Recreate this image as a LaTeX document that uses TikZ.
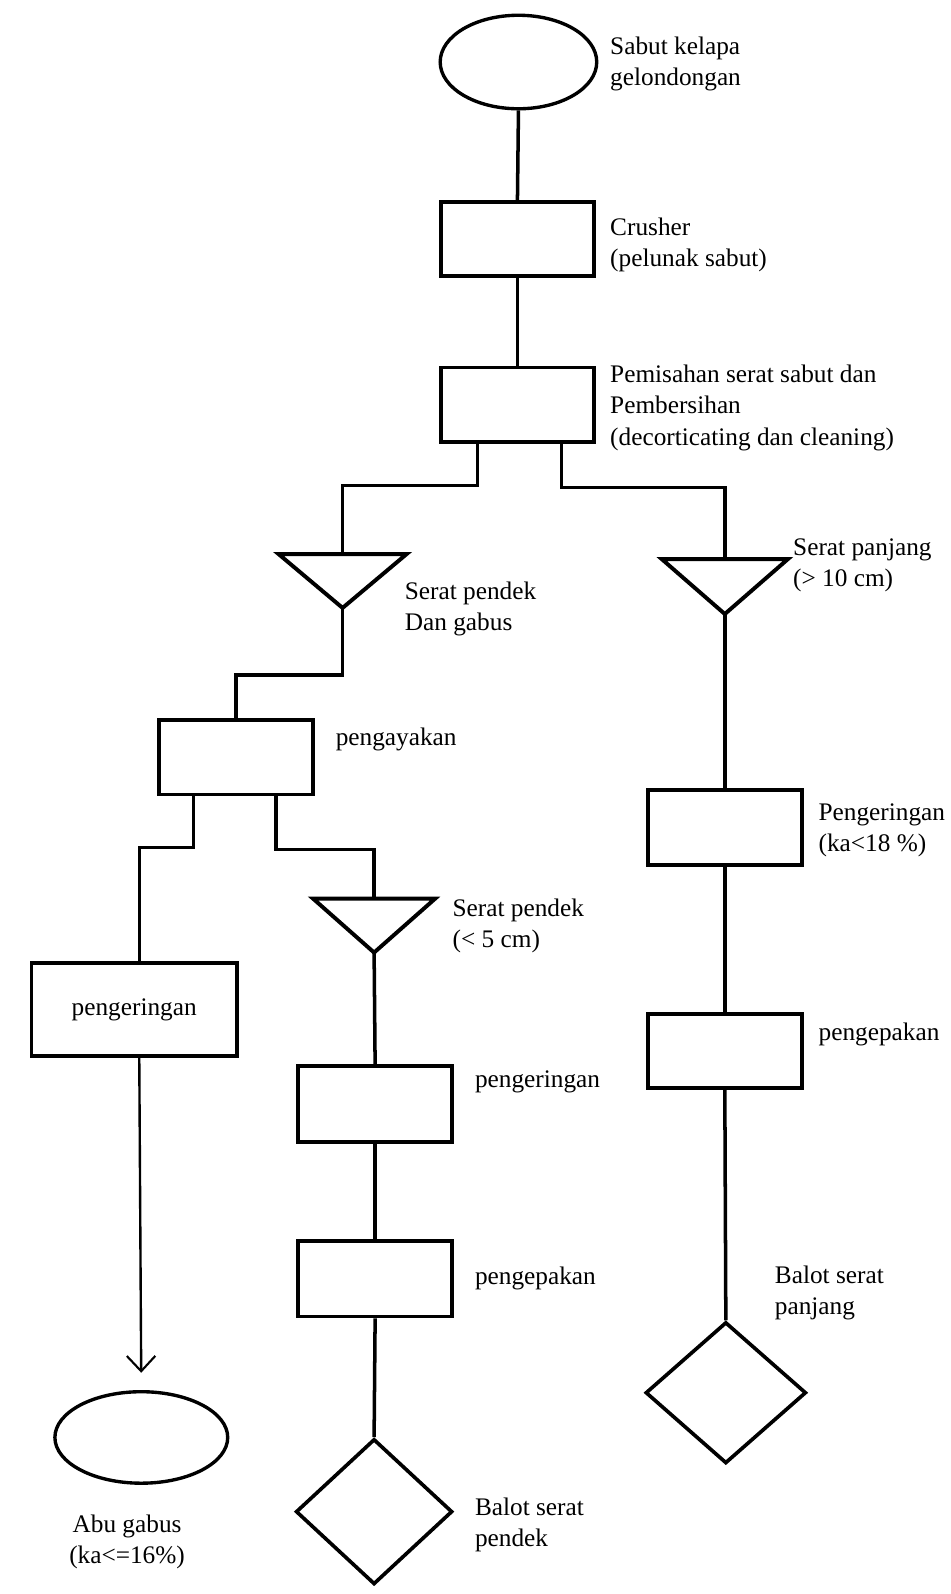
\documentclass[tikz,border=0pt]{standalone}
\usepackage{fontspec}
\setmainfont{Liberation Serif}
\usetikzlibrary{shapes.geometric,arrows.meta}
\def\U{0.2543mm}
\begin{document}
\begin{tikzpicture}[x=\U,y=-\U,
  conn/.style={line width=2.5pt, line join=miter},
  thinconn/.style={line width=1.7pt},
  box/.style={draw, line width=2.8pt, rectangle, minimum width=151*\U, minimum height=73*\U, inner sep=0pt},
  ell/.style={draw, line width=2.4pt, ellipse, inner sep=0pt},
  dia/.style={draw, line width=2.6pt, diamond, inner sep=0pt},
  tri/.style={draw, line width=2.8pt, line join=miter},
  lbl/.style={anchor=west, align=left, inner sep=0pt, font=\fontsize{18}{22.4}\selectfont},
  inlbl/.style={font=\fontsize{18}{22.4}\selectfont}
]
\useasboundingbox[fill=white] (0,0) rectangle (935,1568);

% shapes
\node[ell, minimum width=154*\U, minimum height=92*\U] (src) at (510,61) {};
\node[box] (crush) at (509,235) {};
\node[box] (pem) at (509,398) {};
\coordinate (tAtop) at (337,545);
\coordinate (tAapex) at (337,598);
\coordinate (tBtop) at (713,550);
\coordinate (tCtop) at (368,884);
\coordinate (tCapex) at (368,937);
\coordinate (tBapex) at (713,604);
\draw[tri] ([shift={(-63,0)}]tAtop) -- ([shift={(63,0)}]tAtop) -- (tAapex) -- cycle;
\draw[tri] ([shift={(-62,0)}]tBtop) -- ([shift={(62,0)}]tBtop) -- (tBapex) -- cycle;
\draw[tri] ([shift={(-60,0)}]tCtop) -- ([shift={(60,0)}]tCtop) -- (tCapex) -- cycle;
\node[box] (peny) at (232,745) {};
\node[box, minimum width=202*\U, minimum height=92*\U] (pengL) at (132,993) {};
\node[inlbl] (pengLtxt) at (pengL) {pengeringan};
\node[ell, minimum width=170*\U, minimum height=90*\U] (abu) at (139,1414) {};
\node[box, minimum height=74*\U] (pengM) at (369,1086) {};
\node[box, minimum height=74*\U] (packM) at (369,1258) {};
\node[dia, minimum width=154*\U, minimum height=143*\U] (diamM) at (368,1487) {};
\node[box] (pengR) at (713,814) {};
\node[box] (packR) at (713,1034) {};
\node[dia, minimum width=158*\U, minimum height=139*\U] (diamR) at (714,1370) {};

% connectors
\draw[conn] (src.south) -- (crush.north);
\draw[conn] (crush.south) -- (pem.north);
\draw[conn] ([shift={(38,0)}]pem.south west) -- ++(0,41) -| (tAtop);
\draw[conn] ([shift={(-34,0)}]pem.south east) -- ++(0,43) -| (tBtop);
\draw[conn] (tAapex) -- ++(0,66) -| (peny.north);
\draw[conn] ([shift={(36,0)}]peny.south west) -- ++(0,50) -| ([shift={(5,0)}]pengL.north);
\draw[conn] ([shift={(-38,0)}]peny.south east) -- ++(0,52) -| (tCtop);
\draw[conn] (tCapex) -- (pengM.north);
\draw[conn] (pengM.south) -- (packM.north);
\draw[conn] (packM.south) -- (diamM.north);
\draw[conn] (tBapex) -- (pengR.north);
\draw[conn] (pengR.south) -- (packR.north);
\draw[conn] (packR.south) -- (diamR.north);
\draw[thinconn, -{Straight Barb[length=15*\U, width=28*\U, line width=1.5pt]}, shorten >=17*\U]
  ([shift={(5,0)}]pengL.south) -- (abu.north);

% labels
\node[lbl] (l1) at (600,63) {Sabut kelapa\\gelondongan};
\node[lbl] (l2) at (600,241) {Crusher\\(pelunak sabut)};
\node[lbl] (l3) at (600,401) {Pemisahan serat sabut dan\\Pembersihan\\(decorticating dan cleaning)};
\node[lbl] (l4) at (398,599) {Serat pendek\\Dan gabus};
\node[lbl] (l5) at (780,556) {Serat panjang\\(> 10 cm)};
\node[lbl] (l6) at (330,727) {pengayakan};
\node[lbl] (l7) at (445,911) {Serat pendek\\(< 5 cm)};
\node[lbl] (l8) at (805,817) {Pengeringan\\(ka<18 \%)};
\node[lbl] (l9) at (467,1064) {pengeringan};
\node[lbl] (l10) at (467,1258) {pengepakan};
\node[lbl] (l11) at (805,1018) {pengepakan};
\node[lbl] (l12) at (762,1272) {Balot serat\\panjang};
\node[lbl] (l13) at (467,1500) {Balot serat\\pendek};
\node[inlbl, align=center, inner sep=0pt] (l14) at (125,1517) {Abu gabus\\(ka<=16\%)};
\end{tikzpicture}
\end{document}
